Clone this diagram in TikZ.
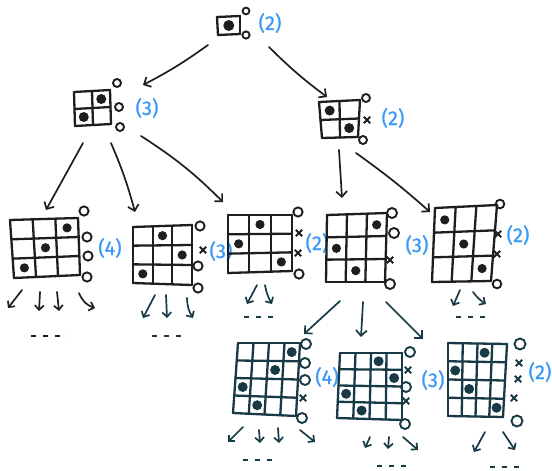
\documentclass[tikz,border=0pt]{standalone}
\usepackage{fontspec}
\newfontfamily\lblfont{Fira Sans}[FakeBold=0.8]
\usetikzlibrary{calc,arrows.meta}
\definecolor{ink}{HTML}{1E1E1E}
\definecolor{inkteal}{HTML}{173A46}
\definecolor{lblblue}{RGB}{58,152,246}
\newcommand\corners[5]{\coordinate (#1tl) at #2; \coordinate (#1tr) at #3; \coordinate (#1br) at #4; \coordinate (#1bl) at #5;}
\newcommand\qboard[6]{%
 \begin{scope}[draw=#1,fill=#1,line width=2.3pt,line cap=round,line join=round]
  \foreach \i in {0,...,#3}{\draw ($(#2tl)!\i/#3!(#2tr)$) -- ($(#2bl)!\i/#3!(#2br)$);}
  \foreach \j in {0,...,#4}{\draw ($(#2tl)!\j/#4!(#2bl)$) -- ($(#2tr)!\j/#4!(#2br)$);}
  \foreach \c/\r in {#5}{%
    \path ($(#2tl)!{(\c-0.5)/#3}!(#2tr)$) coordinate (qa) ($(#2bl)!{(\c-0.5)/#3}!(#2br)$) coordinate (qb);
    \fill ($(qa)!{(\r-0.5)/#4}!(qb)$) circle (#6);}
 \end{scope}}
\newcommand\qo[2][4pt]{\draw[sidemark] #2 circle (#1);}
\newcommand\qx[1]{\draw[sidemark] #1 +(-3.2pt,-3.2pt) -- +(3.2pt,3.2pt) #1 +(-3.2pt,3.2pt) -- +(3.2pt,-3.2pt);}
\tikzset{
  sidemark/.style={line width=1.9pt},
  lbl/.style={text=lblblue,font=\lblfont\fontsize{20}{22}\selectfont,inner sep=0pt},
  bigarr/.style={draw=ink,line width=1.7pt,line cap=round,line join=round,-{Straight Barb[length=5.5pt,width=11pt]}},
  smallarr/.style={draw=inkteal,line width=1.7pt,line cap=round,line join=round,-{Straight Barb[length=4.5pt,width=9pt]}},
  dashrow/.style={draw=inkteal,line width=1.3pt,dash pattern=on 5pt off 7pt}
}
\begin{document}
\begin{tikzpicture}[x=1pt,y=-1pt]
\useasboundingbox (0,0) rectangle (552,471);
% ---------- root ----------
\corners{r}{(217,17)}{(240,16)}{(240,34)}{(218,35)}
\qboard{ink}{r}{1}{1}{1/1}{5.5pt}
\begin{scope}[draw=ink]
\qo[3.4pt]{(246,11)} \qo[3.6pt]{(246,35)}
\end{scope}
\node[lbl] (l0) at (270,23) {(2)};
% ---------- level 1 ----------
\corners{a}{(74,92)}{(110,90)}{(111,124)}{(75,126)}
\qboard{ink}{a}{2}{2}{2/1,1/2}{5pt}
\begin{scope}[draw=ink]
\qo[4pt]{(117,83)} \qo[4pt]{(119,107)} \qo[4pt]{(120,127)}
\end{scope}
\node[lbl] (la) at (147,108) {(3)};
\corners{b}{(319,102)}{(360,100)}{(358,137)}{(322,138)}
\qboard{ink}{b}{2}{2}{1/1,2/2}{5pt}
\begin{scope}[draw=ink]
\qo[4pt]{(366,98)} \qx{(367,120)} \qo[4pt]{(363,140)}
\end{scope}
\node[lbl] (lb) at (393,118) {(2)};
% ---------- level 2 ----------
\corners{g1}{(10,220)}{(78,218)}{(80,275)}{(14,278)}
\qboard{ink}{g1}{3}{3}{3/1,2/2,1/3}{4.6pt}
\begin{scope}[draw=ink]
\qo[4.6pt]{(84,211)} \qo[4.6pt]{(87,237)} \qo[4.6pt]{(88,256)} \qo[4.6pt]{(87,277)}
\end{scope}
\node[lbl] (lg1) at (110,248) {(4)};
\corners{g2}{(133,227)}{(192,225)}{(192,285)}{(133,283)}
\qboard{ink}{g2}{3}{3}{2/1,3/2,1/3}{4.6pt}
\begin{scope}[draw=ink]
\qo[4.6pt]{(200,226)} \qx{(203,250)} \qo[4.6pt]{(198,266)} \qo[4.6pt]{(198,288)}
\end{scope}
\node[lbl] (lg2) at (221,251) {(3)};
\corners{g3}{(228,215)}{(292,215)}{(292,271)}{(228,273)}
\qboard{ink}{g3}{3}{3}{2/1,1/2,3/3}{4.6pt}
\begin{scope}[draw=ink]
\qo[4.6pt]{(298,212)} \qx{(299,233)} \qx{(298,253)} \qo[4.6pt]{(299,274)}
\end{scope}
\node[lbl] (lg3) at (317,243) {(2)};
\corners{g4}{(327,215)}{(387,213)}{(385,282)}{(326,282)}
\qboard{ink}{g4}{3}{3}{3/1,1/2,2/3}{4.6pt}
\begin{scope}[draw=ink]
\qo[5pt]{(392,213)} \qo[5pt]{(394,233)} \qx{(390,260)} \qo[5pt]{(390,284)}
\end{scope}
\node[lbl] (lg4) at (417,245) {(3)};
\corners{g5}{(435,208)}{(497,205)}{(491,281)}{(432,282)}
\qboard{ink}{g5}{3}{3}{1/1,2/2,3/3}{4.6pt}
\begin{scope}[draw=ink]
\qo[4.3pt]{(500,204)} \qx{(498,234)} \qx{(497,254)} \qo[4.3pt]{(497,284)}
\end{scope}
\node[lbl] (lg5) at (518,235) {(2)};
% ---------- level 3 ----------
\corners{h1}{(238,343)}{(300,343)}{(296,416)}{(233,413)}
\qboard{inkteal}{h1}{4}{4}{4/1,3/2,1/3,2/4}{5pt}
\begin{scope}[draw=inkteal]
\qo[5pt]{(306,344)} \qo[5pt]{(305,363)} \qo[5pt]{(305,380)} \qx{(303,398)} \qo[5pt]{(302,418)}
\end{scope}
\node[lbl] (lh1) at (327,377) {(4)};
\corners{h2}{(340,353)}{(402,353)}{(402,420)}{(337,418)}
\qboard{inkteal}{h2}{4}{4}{3/1,4/2,1/3,2/4}{5pt}
\begin{scope}[draw=inkteal]
\qo[5pt]{(410,352)} \qx{(408,370)} \qo[5pt]{(406,387)} \qx{(406,401)} \qo[5pt]{(405,424)}
\end{scope}
\node[lbl] (lh2) at (433,380) {(3)};
\corners{h3}{(448,343)}{(507,344)}{(503,417)}{(448,416)}
\qboard{inkteal}{h3}{4}{4}{3/1,1/2,2/3,4/4}{5pt}
\begin{scope}[draw=inkteal]
\qo[5.5pt]{(520,344)} \qx{(519,363)} \qx{(518,379)} \qx{(514,398)} \qo[5.5pt]{(517,421)}
\end{scope}
\node[lbl] (lh3) at (540,372) {(2)};
% ---------- tree connectors ----------
\coordinate (rs1) at (208,45); \coordinate (ae) at (143,85);
\coordinate (rs2) at (269,47); \coordinate (be) at (327,97);
\draw[bigarr] (rs1) to[bend left=4] (ae);
\draw[bigarr] (rs2) to[bend right=4] (be);
\coordinate (as1) at (83,143); \coordinate (g1e) at (46,210);
\coordinate (as2) at (111,143); \coordinate (g2e) at (135,212);
\coordinate (as3) at (141,136); \coordinate (g3e) at (223,202);
\draw[bigarr] (as1) -- (g1e);
\draw[bigarr] (as2) to[bend left=4] (g2e);
\draw[bigarr] (as3) to[bend left=6] (g3e);
\coordinate (bs1) at (339,150); \coordinate (g4e) at (342,198);
\coordinate (bs2) at (356,153); \coordinate (g5e) at (430,212);
\draw[bigarr] (bs1) -- (g4e);
\draw[bigarr] (bs2) to[bend left=3] (g5e);
\coordinate (gs1) at (340,301); \coordinate (h1e) at (304,334);
\coordinate (gs2) at (363,302); \coordinate (h2e) at (361,337);
\coordinate (gs3) at (386,302); \coordinate (h3e) at (423,339);
\draw[bigarr,draw=inkteal] (gs1) -- (h1e);
\draw[bigarr,draw=inkteal] (gs2) -- (h2e);
\draw[bigarr,draw=inkteal] (gs3) -- (h3e);
% ---------- pending branches ----------
\coordinate (p11) at (22,290); \coordinate (q11) at (8,308);
\coordinate (p12) at (40,292); \coordinate (q12) at (39,311);
\coordinate (p13) at (57,292); \coordinate (q13) at (59,311);
\coordinate (p14) at (79,293); \coordinate (q14) at (95,308);
\draw[smallarr,draw=ink] (p11) -- (q11);
\draw[smallarr,draw=ink] (p12) -- (q12);
\draw[smallarr,draw=ink] (p13) -- (q13);
\draw[smallarr,draw=ink] (p14) to[bend right=25] (q14);
\draw[dashrow,draw=ink] (31,336) -- (67,336);
\coordinate (p21) at (155,295); \coordinate (q21) at (143,318);
\coordinate (p22) at (166,295); \coordinate (q22) at (167,318);
\coordinate (p23) at (187,298); \coordinate (q23) at (193,318);
\draw[smallarr] (p21) -- (q21);
\draw[smallarr] (p22) -- (q22);
\draw[smallarr] (p23) to[bend right=15] (q23);
\draw[dashrow] (152,336) -- (186,336);
\coordinate (p31) at (257,285); \coordinate (q31) at (247,304);
\coordinate (p32) at (265,285); \coordinate (q32) at (272,304);
\draw[smallarr] (p31) -- (q31);
\draw[smallarr] (p32) to[bend right=10] (q32);
\draw[dashrow] (244,317) -- (276,317);
\coordinate (p51) at (460,290); \coordinate (q51) at (453,306);
\coordinate (p52) at (473,292); \coordinate (q52) at (486,304);
\draw[smallarr] (p51) -- (q51);
\draw[smallarr] (p52) to[bend right=10] (q52);
\draw[dashrow] (456,317) -- (490,317);
\coordinate (p61) at (243,427); \coordinate (q61) at (228,442);
\coordinate (p62) at (259,430); \coordinate (q62) at (260,443);
\coordinate (p63) at (278,428); \coordinate (q63) at (279,443);
\coordinate (p64) at (300,430); \coordinate (q64) at (315,442);
\draw[smallarr] (p61) -- (q61);
\draw[smallarr] (p62) -- (q62);
\draw[smallarr] (p63) -- (q63);
\draw[smallarr] (p64) -- (q64);
\draw[dashrow] (243,460) -- (275,460);
\coordinate (p71) at (370,437); \coordinate (q71) at (365,448);
\coordinate (p72) at (389,437); \coordinate (q72) at (388,449);
\coordinate (p73) at (403,437); \coordinate (q73) at (418,450);
\draw[smallarr] (p71) -- (q71);
\draw[smallarr] (p72) -- (q72);
\draw[smallarr] (p73) -- (q73);
\draw[dashrow] (377,466) -- (409,466);
\coordinate (p81) at (485,432); \coordinate (q81) at (474,452);
\coordinate (p82) at (503,432); \coordinate (q82) at (515,450);
\draw[smallarr] (p81) -- (q81);
\draw[smallarr] (p82) -- (q82);
\draw[dashrow] (490,467) -- (520,467);
\end{tikzpicture}
\end{document}
